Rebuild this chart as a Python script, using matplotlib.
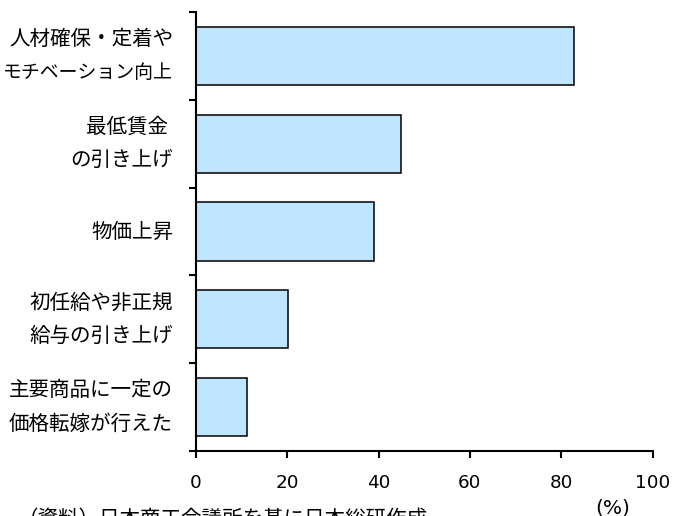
import matplotlib
matplotlib.use("Agg")
import matplotlib.pyplot as plt
import matplotlib.transforms as mtransforms
import numpy as np

plt.rcParams['font.family'] = ['Noto Sans CJK JP', 'DejaVu Sans']

# chart data (percent), top to bottom
labels = [
    ["人材確保・定着や", "モチベーション向上"],
    ["最低賃金 ", "の引き上げ"],
    ["物価上昇"],
    ["初任給や非正規", "給与の引き上げ"],
    ["主要商品に一定の", "価格転嫁が行えた"],
]
values = [82.7, 44.9, 39.0, 20.2, 11.3]
xticks = [0, 20, 40, 60, 80, 100]

fig = plt.figure(figsize=(6.74, 5.16), dpi=100)
ax = fig.add_axes([0.2904, 0.1266, 0.9684 - 0.2904, 0.9762 - 0.1266])

ypos = np.arange(len(values))
ax.barh(ypos, values, height=0.666, color='#C0E5FF', edgecolor='black', linewidth=1.1)

ax.set_xlim(0, 100)
ax.set_ylim(len(values) - 0.5, -0.5)

ax.set_xticks(xticks)
ax.set_xticklabels([str(t) for t in xticks], family='DejaVu Sans', fontsize=13.2)
ax.tick_params(axis='x', direction='out', length=5, width=1.5, pad=11.5)

# tick marks on category boundaries only
ax.set_yticks(np.arange(-0.5, len(values), 1.0))
ax.set_yticklabels([])
ax.tick_params(axis='y', direction='out', length=5, width=1.5)

# category labels, one text per line (katakana line is narrower in the original font)
trans = mtransforms.blended_transform_factory(ax.transAxes, ax.transData)
for i, lines in enumerate(labels):
    offs = [0.0] if len(lines) == 1 else [-0.19, 0.19]
    for line, dy in zip(lines, offs):
        size = 13.6 if line == "モチベーション向上" else 14.8
        ax.text(-0.0497, i + dy, line, transform=trans, fontsize=size,
                ha='right', va='center')

for side in ['top', 'right']:
    ax.spines[side].set_visible(False)
for side in ['left', 'bottom']:
    ax.spines[side].set_linewidth(1.5)

fig.text(613 / 674, 1 - 513 / 516, "(%)", family='DejaVu Sans', fontsize=14.5,
         ha='center', va='baseline')
fig.text(18 / 674, 1 - 525 / 516, "（資料）日本商工会議所を基に日本総研作成", fontsize=14.8,
         ha='left', va='baseline')

fig.savefig("out.png", dpi=100)
